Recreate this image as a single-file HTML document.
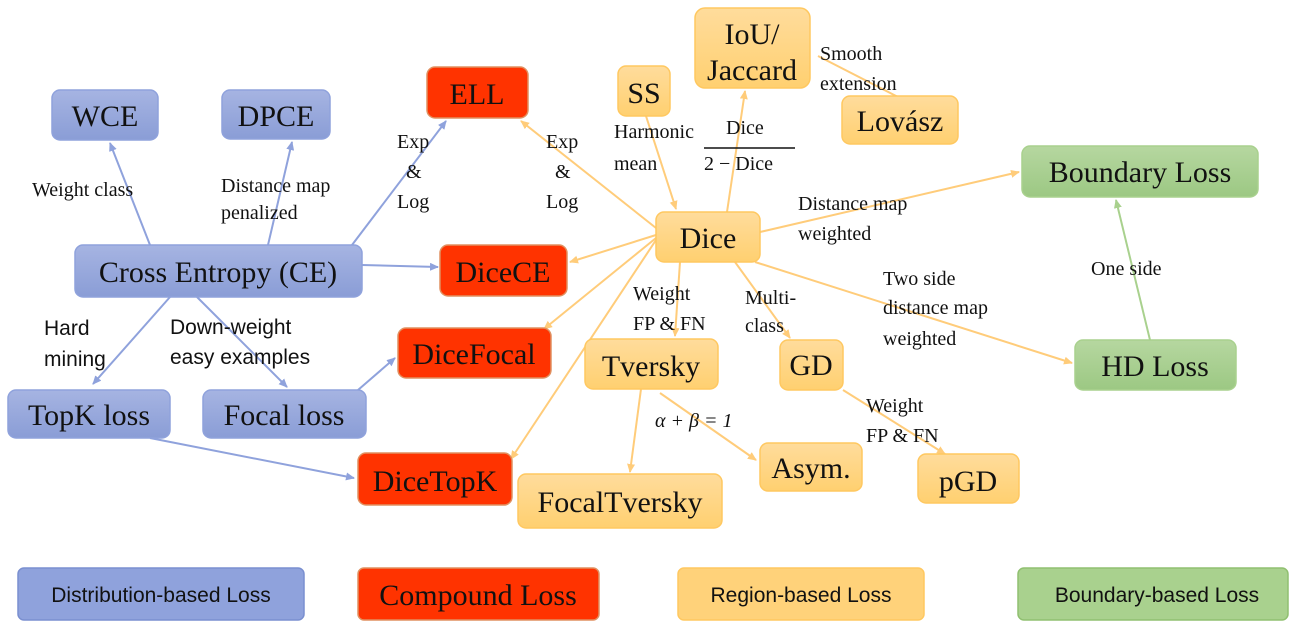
<!DOCTYPE html>
<html><head><meta charset="utf-8"><style>
body{margin:0;background:#fff;width:1300px;height:625px;overflow:hidden}
svg text{font-family:"Liberation Serif",serif}
svg text.s{font-family:"Liberation Sans",sans-serif}
</style></head><body>
<svg width="1300" height="625" viewBox="0 0 1300 625" xmlns="http://www.w3.org/2000/svg">
<defs>
<linearGradient id="gb" x1="0" y1="0" x2="0" y2="1"><stop offset="0" stop-color="#a6b4e2"/><stop offset="1" stop-color="#8a9dd6"/></linearGradient>
<linearGradient id="go" x1="0" y1="0" x2="0" y2="1"><stop offset="0" stop-color="#ffdc9c"/><stop offset="1" stop-color="#ffd070"/></linearGradient>
<linearGradient id="gg" x1="0" y1="0" x2="0" y2="1"><stop offset="0" stop-color="#b6d7a0"/><stop offset="1" stop-color="#9cc883"/></linearGradient>
<marker id="ab" markerWidth="10" markerHeight="10" refX="8" refY="4" orient="auto" markerUnits="userSpaceOnUse"><path d="M0,0L9,4L0,8z" fill="#8fa2dc"/></marker>
<marker id="ao" markerWidth="10" markerHeight="10" refX="8" refY="4" orient="auto" markerUnits="userSpaceOnUse"><path d="M0,0L9,4L0,8z" fill="#ffcc7a"/></marker>
<marker id="ag" markerWidth="10" markerHeight="10" refX="8" refY="4" orient="auto" markerUnits="userSpaceOnUse"><path d="M0,0L9,4L0,8z" fill="#a9d18e"/></marker>
</defs>
<g stroke="#8fa2dc" stroke-width="2" marker-end="url(#ab)">
<line x1="150" y1="245" x2="110" y2="143"/>
<line x1="268" y1="245" x2="292" y2="142"/>
<line x1="352" y1="245" x2="446" y2="121"/>
<line x1="362" y1="265" x2="438" y2="267"/>
<line x1="170" y1="297" x2="93" y2="384"/>
<line x1="197" y1="297" x2="287" y2="387"/>
<line x1="358" y1="390" x2="395" y2="358"/>
<line x1="150" y1="438" x2="354" y2="478"/>
</g>
<g stroke="#ffcc7a" stroke-width="2" marker-end="url(#ao)">
<line x1="656" y1="228" x2="521" y2="121"/>
<line x1="656" y1="235" x2="570" y2="262"/>
<line x1="656" y1="238" x2="544" y2="329"/>
<line x1="656" y1="240" x2="511" y2="459"/>
<line x1="646" y1="116" x2="676" y2="209"/>
<line x1="727" y1="212" x2="745" y2="91"/>
<line x1="760" y1="232" x2="1019" y2="172"/>
<line x1="755" y1="262" x2="1072" y2="363"/>
<line x1="680" y1="262" x2="675" y2="336"/>
<line x1="735" y1="262" x2="790" y2="338"/>
<line x1="641" y1="389" x2="630" y2="472"/>
<line x1="660" y1="393" x2="756" y2="460"/>
<line x1="843" y1="390" x2="945" y2="454"/>
</g>
<line x1="818" y1="56" x2="900" y2="98" stroke="#ffcc7a" stroke-width="2"/>
<line x1="1150" y1="340" x2="1116" y2="200" stroke="#a9d18e" stroke-width="2" marker-end="url(#ag)"/>
<g stroke-width="1.5">
<rect x="52" y="90" width="106" height="50" rx="8" fill="url(#gb)" stroke="#8fa2dc"/>
<rect x="222" y="90" width="108" height="49" rx="8" fill="url(#gb)" stroke="#8fa2dc"/>
<rect x="75" y="245" width="287" height="52" rx="8" fill="url(#gb)" stroke="#8fa2dc"/>
<rect x="8" y="390" width="162" height="48" rx="8" fill="url(#gb)" stroke="#8fa2dc"/>
<rect x="203" y="390" width="163" height="48" rx="8" fill="url(#gb)" stroke="#8fa2dc"/>
<rect x="427" y="67" width="101" height="51" rx="8" fill="#ff3300" stroke="#e09060"/>
<rect x="440" y="245" width="127" height="51" rx="8" fill="#ff3300" stroke="#e09060"/>
<rect x="398" y="328" width="153" height="50" rx="8" fill="#ff3300" stroke="#e09060"/>
<rect x="358" y="453" width="154" height="52" rx="8" fill="#ff3300" stroke="#e09060"/>
<rect x="618" y="66" width="52" height="50" rx="8" fill="url(#go)" stroke="#ffc860"/>
<rect x="695" y="8" width="115" height="80" rx="10" fill="url(#go)" stroke="#ffc860"/>
<rect x="842" y="96" width="116" height="48" rx="8" fill="url(#go)" stroke="#ffc860"/>
<rect x="656" y="212" width="104" height="50" rx="8" fill="url(#go)" stroke="#ffc860"/>
<rect x="585" y="339" width="133" height="50" rx="8" fill="url(#go)" stroke="#ffc860"/>
<rect x="780" y="340" width="63" height="50" rx="8" fill="url(#go)" stroke="#ffc860"/>
<rect x="760" y="443" width="102" height="48" rx="8" fill="url(#go)" stroke="#ffc860"/>
<rect x="918" y="454" width="101" height="49" rx="8" fill="url(#go)" stroke="#ffc860"/>
<rect x="518" y="474" width="204" height="54" rx="8" fill="url(#go)" stroke="#ffc860"/>
<rect x="1022" y="146" width="236" height="51" rx="8" fill="url(#gg)" stroke="#a9d18e"/>
<rect x="1075" y="340" width="161" height="50" rx="8" fill="url(#gg)" stroke="#a9d18e"/>
<rect x="18" y="568" width="286" height="52" rx="6" fill="#8fa2dc" stroke="#7a8fd0"/>
<rect x="358" y="568" width="241" height="52" rx="6" fill="#ff3300" stroke="#e09060"/>
<rect x="678" y="568" width="246" height="52" rx="6" fill="#ffd27a" stroke="#ffc860"/>
<rect x="1018" y="568" width="270" height="52" rx="6" fill="#a9d18e" stroke="#90c070"/>
</g>
<g font-size="30" text-anchor="middle" fill="#111">
<text x="105" y="126">WCE</text>
<text x="276" y="126">DPCE</text>
<text x="218" y="282">Cross Entropy (CE)</text>
<text x="89" y="425">TopK loss</text>
<text x="284" y="425">Focal loss</text>
<text x="477" y="104">ELL</text>
<text x="503" y="282">DiceCE</text>
<text x="474" y="364">DiceFocal</text>
<text x="435" y="491">DiceTopK</text>
<text x="644" y="103">SS</text>
<text x="752" y="44">IoU/</text>
<text x="752" y="80">Jaccard</text>
<text x="900" y="131">Lovász</text>
<text x="708" y="248">Dice</text>
<text x="651" y="376">Tversky</text>
<text x="811" y="375">GD</text>
<text x="811" y="478">Asym.</text>
<text x="968" y="491">pGD</text>
<text x="620" y="512">FocalTversky</text>
<text x="1140" y="182">Boundary Loss</text>
<text x="1155" y="376">HD Loss</text>
<text x="478" y="605">Compound Loss</text>
</g>
<g font-size="20" fill="#111">
<text x="32" y="196">Weight class</text>
<text x="221" y="192">Distance map</text>
<text x="221" y="219">penalized</text>
<text x="397" y="148">Exp</text><text x="406" y="178">&amp;</text><text x="397" y="208">Log</text>
<text x="546" y="148">Exp</text><text x="555" y="178">&amp;</text><text x="546" y="208">Log</text>
<text x="614" y="138">Harmonic</text><text x="614" y="170">mean</text>
<text x="726" y="134">Dice</text>
<line x1="704" y1="148" x2="795" y2="148" stroke="#111" stroke-width="1.5"/>
<text x="704" y="170">2 − Dice</text>
<text x="820" y="60">Smooth</text><text x="820" y="90">extension</text>
<text x="798" y="210">Distance map</text><text x="798" y="240">weighted</text>
<text x="883" y="285">Two side</text><text x="883" y="314">distance map</text><text x="883" y="345">weighted</text>
<text x="1091" y="275">One side</text>
<text x="633" y="300">Weight</text><text x="633" y="330">FP &amp; FN</text>
<text x="745" y="304">Multi-</text><text x="745" y="332">class</text>
<text x="866" y="412">Weight</text><text x="866" y="442">FP &amp; FN</text>
<text x="655" y="427" font-style="italic">α + β = 1</text>
</g>
<g font-size="21" fill="#111">
<text class="s" x="44" y="335">Hard</text>
<text class="s" x="44" y="366">mining</text>
<text class="s" x="170" y="334">Down-weight</text>
<text class="s" x="170" y="364">easy examples</text>
<text class="s" x="161" y="602" text-anchor="middle">Distribution-based Loss</text>
<text class="s" x="801" y="602" text-anchor="middle">Region-based Loss</text>
<text class="s" x="1157" y="602" text-anchor="middle">Boundary-based Loss</text>
</g>
</svg>
</body></html>
